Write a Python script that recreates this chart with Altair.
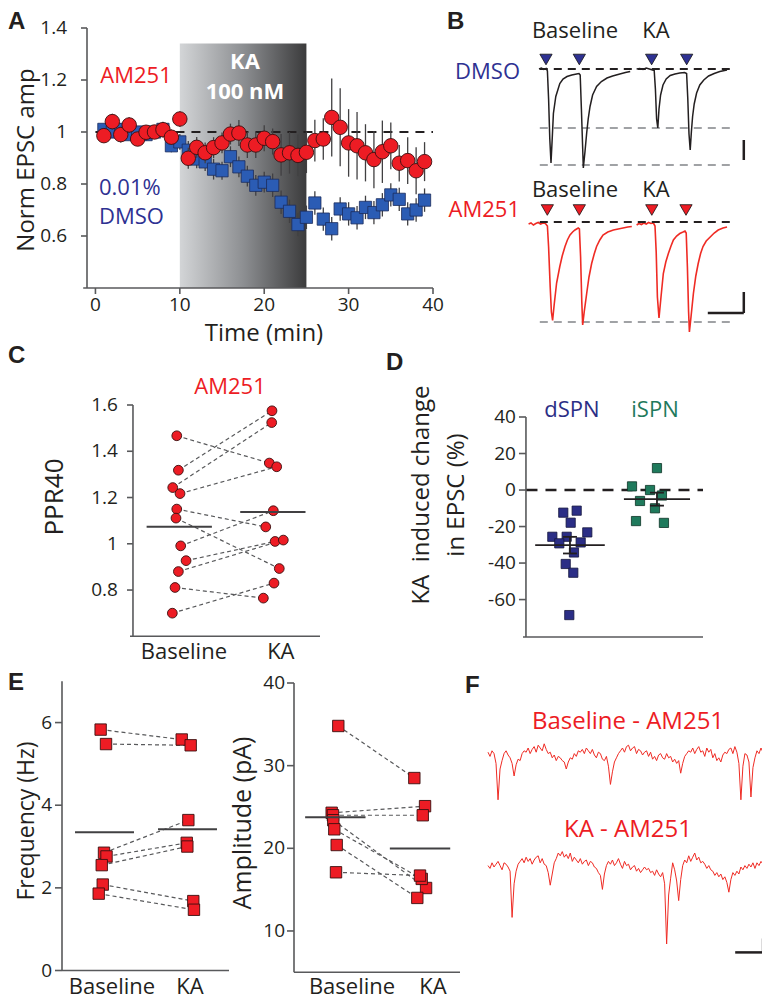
import altair as alt
import numpy as np
import pandas as pd

# ======================= DATA =======================
# ---- Panel A: normalised EPSC amplitude vs time ----
time_min = list(range(1, 40))
am251_norm = [0.986, 1.04, 0.99, 1.027, 0.973, 0.999, 1.0, 1.009, 0.98, 1.05,
              0.899, 0.941, 0.92, 0.94, 0.958, 0.992, 0.996, 0.95, 0.95, 0.976,
              0.963, 0.912, 0.92, 0.91, 0.922, 0.967, 0.973, 1.056, 1.018, 0.958,
              0.947, 0.92, 0.894, 0.924, 0.947, 0.88, 0.89, 0.851, 0.886]
am251_sem = [0.02, 0.03, 0.03, 0.03, 0.02, 0.02, 0.02, 0.03, 0.03, 0.03,
             0.04, 0.04, 0.04, 0.04, 0.04, 0.04, 0.05, 0.05, 0.05, 0.05,
             0.05, 0.08, 0.08, 0.08, 0.08, 0.08, 0.08, 0.15, 0.15, 0.13,
             0.13, 0.11, 0.11, 0.12, 0.09, 0.07, 0.09, 0.09, 0.075]
dmso_norm = [1.01, 1.0, 1.01, 0.99, 1.0, 0.99, 1.0, 1.01, 0.947, 0.962,
             0.93, 0.896, 0.885, 0.857, 0.851, 0.905, 0.866, 0.83, 0.795, 0.807,
             0.795, 0.73, 0.695, 0.644, 0.672, 0.727, 0.665, 0.628, 0.704, 0.685,
             0.67, 0.71, 0.69, 0.72, 0.758, 0.741, 0.685, 0.70, 0.738]
dmso_sem = [0.02, 0.02, 0.025, 0.02, 0.02, 0.025, 0.02, 0.02, 0.025, 0.03,
            0.035, 0.035, 0.035, 0.04, 0.035, 0.04, 0.04, 0.04, 0.04, 0.04,
            0.045, 0.045, 0.045, 0.045, 0.045, 0.045, 0.045, 0.045, 0.045, 0.045,
            0.045, 0.045, 0.045, 0.045, 0.045, 0.045, 0.045, 0.045, 0.045]
ka_window = [10, 25]          # KA application (min)
ka_band_top = 1.34
a_yticks = [0.6, 0.8, 1, 1.2, 1.4]
a_xticks = [0, 10, 20, 30, 40]

# ---- Panel B: example EPSC traces (ms, pA-like units) ----
dmso_bl_t = [0, 3, 6, 9, 10.5, 12, 13.5, 15, 16.5, 18, 21, 26, 30, 35, 41, 47, 50, 51.5, 53,
             55.4, 57.5, 59.6, 61.5, 63.8, 67, 72, 78, 85, 92, 101, 108, 114]
dmso_bl_v = [0, 2, -1, 1, -4, -60, -140, -188, -140, -89, -55, -29, -20, -15, -12, -10, -9, -12, -80,
             -198, -165, -128, -100, -75, -52, -35, -25, -18, -14, -10, -7, -5]
dmso_ka_t = [122, 126, 130, 134, 138, 142, 144, 145.5, 147, 148.5, 150, 152, 155, 159, 164, 170, 176,
             182, 184.5, 186, 187.5, 189, 190.5, 192, 194, 197, 201, 206, 212, 219, 226, 232, 235]
dmso_ka_v = [0, 1, -1, 2, 0, -2, -3, -40, -100, -118, -80, -52, -32, -20, -13, -10, -8,
             -7, -9, -60, -130, -162, -125, -95, -70, -48, -32, -22, -14, -9, -5, -3, -2]
am_bl_t = [-13, -10, -7, -4, -1, 2, 5, 8, 10.5, 12, 14, 15.5, 17, 19, 22, 26, 29, 32.5, 35.5, 38.75,
           42, 45, 49, 50.5, 52, 53.5, 54.6, 56.5, 59.6, 62.5, 65.8, 69, 72, 76, 80, 86, 93, 99,
           105, 111, 116]
am_bl_v = [-4, -2, -6, -3, -1, -4, -2, -3, -8, -50, -130, -180, -197, -165, -122, -89, -68, -49, -36, -26,
           -20, -16, -12, -14, -70, -160, -206, -180, -143, -110, -83, -64, -49, -36, -26, -20, -16, -14,
           -12, -10, -9]
am_ka_t = [122, 125, 128, 131, 134, 137, 140, 143, 145, 146.5, 148, 150, 152.5, 155.4, 158.5, 161.7,
           165, 168, 172, 176, 180, 182.5, 184, 185.5, 187, 188, 190, 193, 196, 199, 202, 205, 209,
           214, 219, 224, 230, 235]
am_ka_v = [-6, -3, -5, -2, -4, -1, -3, -2, -8, -60, -150, -192, -150, -103, -80, -63,
           -48, -36, -28, -23, -20, -18, -22, -90, -180, -220, -190, -143, -108, -83, -63, -49, -38,
           -30, -22, -16, -12, -10]
dmso_stim_t = [8.75, 50.4, 140.8, 184.6]
am_stim_t = [10.4, 50.4, 141, 183.75]
dmso_marker_level = 19
am_marker_level = 24
dmso_peak_levels = [-118, -192]
am_peak_levels = [-200]
trace_span = [1, 245]
dmso_scalebar = {"t": 256, "v0": -142, "v1": -182}
am_scalebar = {"t0": 211, "t1": 256, "v0": -140, "v1": -182}

# ---- Panel C: PPR40 (AM251) ----
ppr_baseline = [1.467, 1.318, 1.243, 1.217, 1.15, 1.111, 0.991, 0.927, 0.88, 0.811, 0.70]
ppr_ka = [1.349, 1.575, 1.524, 1.333, 1.073, 0.893, 1.143, 1.01, 1.016, 0.765, 0.83]
ppr_baseline_x = [-0.034, -0.017, -0.076, 0.0, -0.034, -0.042, 0.007, 0.063, -0.017, -0.052, -0.080]
ppr_ka_x = [0.930, 0.958, 0.955, 1.007, 0.893, 1.034, 0.972, 0.990, 1.076, 0.868, 0.979]
c_yticks = [0.8, 1, 1.2, 1.4, 1.6]

# ---- Panel D: KA-induced change (%) ----
dspn_change = [-12.4, -11.3, -17.9, -25.6, -25.6, -23.2, -29.2, -28.7, -34.2, -40.5, -45.3, -68.5]
dspn_x = [-0.077, 0.077, 0.008, -0.203, -0.038, 0.199, -0.123, 0.123, 0.046, -0.049, 0.038, -0.008]
ispn_change = [12, 2, 0, -3, -6, -10, -17, -18]
ispn_x = [1.0, 0.713, 0.92, 1.057, 0.805, 0.977, 0.759, 1.08]
d_yticks = [-60, -40, -20, 0, 20, 40]

# ---- Panel E: sEPSC frequency and amplitude ----
freq_baseline = [5.83, 5.48, 2.85, 2.76, 2.55, 2.08, 1.86]
freq_ka = [5.59, 5.45, 3.64, 3.09, 3.00, 1.68, 1.47]
freq_baseline_x = [-0.040, 0.024, 0.0, 0.03, -0.027, -0.015, -0.063]
freq_ka_x = [0.925, 1.032, 1.004, 0.985, 0.992, 1.063, 1.071]
amp_baseline = [34.8, 24.3, 24.0, 23.4, 22.3, 20.4, 17.1]
amp_ka = [28.5, 25.1, 24.0, 15.2, 16.3, 14.0, 16.7]
amp_baseline_x = [0.039, -0.039, -0.024, -0.02, -0.008, 0.02, 0.012]
amp_ka_x = [0.933, 1.059, 1.032, 1.071, 1.02, 0.968, 1.0]
ef_yticks = [0, 2, 4, 6]
ea_yticks = [10, 20, 30, 40]
cat_labels = ["Baseline", "KA"]

# ---- Panel F: spontaneous EPSC traces (pA), sampled over 1000 ms ----
sepsc_baseline = [2, -1, 3, 1, -6, -32, -10, -4, 1, 3,
                  0, -2, -6, -15, -7, -3, -4, 1, 3, 2,
                  5, 1, 4, 6, 2, 7, 5, 3, 8, 4,
                  1, 2, -2, 0, -4, -1, -2, -4, -5, -10,
                  -5, -2, -3, 1, -1, 3, 2, 4, 1, 5,
                  3, 1, 4, 0, -2, 2, 1, -3, -4, -1,
                  -8, -21, -12, -5, -2, 1, 3, 5, 2, 6,
                  7, 3, 5, 6, 1, 4, 3, 0, 2, 3,
                  -1, 2, -3, -1, -4, 0, 1, -2, -3, 1,
                  -2, -1, -5, -3, -6, -4, -13, -6, -1, 1,
                  3, 2, 5, 1, 4, 6, 2, 3, -1, 5,
                  2, 4, -2, 1, -4, -2, -5, 0, 2, 1,
                  4, 5, 1, 6, 2, -6, -32, -8, 1, 0,
                  -5, -30, -9, -2, 3, 1, 5, 2, 6, 3]
sepsc_ka = [1, -1, 3, 0, 2, 4, 1, -2, 3, 2,
            0, -3, -36, -12, -3, 2, 4, 6, 3, 7,
            4, 6, 2, 5, 7, 8, 3, 6, 2, 1,
            -4, -13, -5, 3, 6, 10, 8, 11, 7, 9,
            6, 10, 4, 7, 5, 3, 6, 2, 4, 5,
            1, 4, 3, 0, -1, -4, -6, -16, -5, 1,
            4, 2, 5, 1, 3, 6, 2, -1, 4, 1,
            2, -2, 0, 1, -3, -1, -4, -2, 0, -2,
            -1, -4, -3, -6, -2, -5, -7, -4, -12, -55,
            -20, -8, 3, -2, -10, -24, -9, 1, 5, 3,
            8, 4, 7, 10, 5, 7, 3, 4, 2, -1,
            1, -2, -3, -6, -4, -7, -5, -9, -7, -11,
            -18, -9, -4, -6, -3, -5, 0, -2, 1, -1,
            2, 0, 3, -1, 3, 1, 4, 2, 3, 2]
sepsc_duration_ms = 1000
f_scalebar = {"t0": 886, "t1": 986, "v0": -51, "v1": -61}

# ======================= STYLE / LAYOUT =======================
W, H = 754, 991
M = 8


def gx(v):
    return v - M


def gy(v):
    return v - M


FONT = "Open Sans"
BOLD = "Liberation Sans"
INK = "#231f20"
AX = "#58595b"
RED = "#ed1c24"
TRACE_RED = "#ef2b24"
NAVY = "#2e3192"
BLUE_SQ = "#2b5cb4"
DSPN = "#2b2e86"
GREEN = "#1f7a5c"
GRAYDASH = "#a0a2a5"
EDGE = "#3a1010"
TICK_FS = 19

ONE = pd.DataFrame({"k": [0]})


def txt(s, x, y, size=22, color=INK, weight="normal", align="center",
        baseline="middle", angle=0, font=FONT):
    kw = dict(text=s, fontSize=size, color=color, fontWeight=weight,
              align=align, baseline=baseline, font=font)
    if angle:
        kw["angle"] = angle
    return alt.Chart(ONE).mark_text(**kw).encode(x=alt.value(gx(x)), y=alt.value(gy(y)))


def letter(s, x, y_top):
    return txt(s, x, y_top, size=24, weight="bold", align="left", baseline="top", font=BOLD)


def sc(domain, rng):
    return alt.Scale(domain=domain, range=rng, nice=False, zero=False)


def X(field, s):
    return alt.X(field, scale=s, axis=None)


def Y(field, s):
    return alt.Y(field, scale=s, axis=None)


def fmt(v):
    return f"{v:g}"


def axes(xs, ys, yaxis_x, xaxis_y, x_extent, y_extent, yvals, ytick=6, ylab_dx=-12,
         xvals=None, xlabels=None, xtick=0, xlab_dy=6, xlab_size=TICK_FS, ylab_size=TICK_FS):
    """Axis lines, ticks and tick labels drawn through the panel's own scales."""
    out = []
    out.append(alt.Chart(pd.DataFrame({"x": [yaxis_x], "y0": [y_extent[0]], "y1": [y_extent[1]]}))
               .mark_rule(color=AX, strokeWidth=1.6)
               .encode(x=X("x:Q", xs), y=Y("y0:Q", ys), y2="y1"))
    out.append(alt.Chart(pd.DataFrame({"x0": [x_extent[0]], "x1": [x_extent[1]], "y": [xaxis_y]}))
               .mark_rule(color=AX, strokeWidth=1.6)
               .encode(x=X("x0:Q", xs), x2="x1", y=Y("y:Q", ys)))
    dfy = pd.DataFrame({"v": yvals, "lab": [fmt(v) for v in yvals], "x": yaxis_x})
    if ytick:
        out.append(alt.Chart(dfy).mark_tick(orient="horizontal", size=ytick, thickness=1.6,
                                            color=AX, xOffset=-ytick / 2, opacity=1)
                   .encode(x=X("x:Q", xs), y=Y("v:Q", ys)))
    out.append(alt.Chart(dfy).mark_text(align="right", baseline="middle", dx=ylab_dx,
                                        font=FONT, fontSize=ylab_size, color=INK)
               .encode(x=X("x:Q", xs), y=Y("v:Q", ys), text="lab:N"))
    if xvals is not None:
        labs = xlabels if xlabels is not None else [fmt(v) for v in xvals]
        dfx = pd.DataFrame({"v": xvals, "lab": labs, "y": xaxis_y})
        if xtick:
            out.append(alt.Chart(dfx).mark_tick(orient="vertical", size=xtick, thickness=1.6,
                                                color=AX, yOffset=xtick / 2, opacity=1)
                       .encode(x=X("v:Q", xs), y=Y("y:Q", ys)))
        out.append(alt.Chart(dfx).mark_text(align="center", baseline="top", dy=xlab_dy,
                                            font=FONT, fontSize=xlab_size, color=INK)
                   .encode(x=X("v:Q", xs), y=Y("y:Q", ys), text="lab:N"))
    return out


layers = []

# ======================= PANEL A =======================
xA = sc([-1, 40], [gx(87), gx(433)])
yA = sc([0.4, 1.4], [gy(288), gy(28)])
dfA_red = pd.DataFrame({"t": time_min, "v": am251_norm,
                        "lo": np.array(am251_norm) - np.array(am251_sem),
                        "hi": np.array(am251_norm) + np.array(am251_sem)})
dfA_blue = pd.DataFrame({"t": time_min, "v": dmso_norm,
                         "lo": np.array(dmso_norm) - np.array(dmso_sem),
                         "hi": np.array(dmso_norm) + np.array(dmso_sem)})
grad = alt.LinearGradient(gradient="linear",
                          stops=[alt.GradientStop(color="#d3d5d7", offset=0),
                                 alt.GradientStop(color="#8d8f92", offset=0.5),
                                 alt.GradientStop(color="#3b3b3c", offset=1)],
                          x1=0, x2=1, y1=0, y2=0)
a_band = alt.Chart(pd.DataFrame({"s": [ka_window[0]], "e": [ka_window[1]],
                                 "lo": [0.4], "hi": [ka_band_top]})).mark_rect(fill=grad).encode(
    x=X("s:Q", xA), x2="e", y=Y("lo:Q", yA), y2="hi")
a_dash = alt.Chart(pd.DataFrame({"x0": [0], "x1": [40], "y": [1.0]})).mark_rule(
    color=INK, strokeWidth=2.2, strokeDash=[9, 7]).encode(
    x=X("x0:Q", xA), x2="x1", y=Y("y:Q", yA))
a_berr = alt.Chart(dfA_blue).mark_rule(color="#414042", strokeWidth=1.3).encode(
    x=X("t:Q", xA), y=Y("lo:Q", yA), y2="hi")
a_bpts = alt.Chart(dfA_blue).mark_square(size=150, fill=BLUE_SQ, stroke="#1c2c5c",
                                         strokeWidth=0.8, opacity=1).encode(
    x=X("t:Q", xA), y=Y("v:Q", yA))
a_rerr = alt.Chart(dfA_red).mark_rule(color="#414042", strokeWidth=1.3).encode(
    x=X("t:Q", xA), y=Y("lo:Q", yA), y2="hi")
a_rpts = alt.Chart(dfA_red).mark_circle(size=210, fill=RED, stroke=EDGE, strokeWidth=0.9,
                                        opacity=1).encode(
    x=X("t:Q", xA), y=Y("v:Q", yA))
a_axes = axes(xA, yA, yaxis_x=-1, xaxis_y=0.4, x_extent=[-1.45, 40], y_extent=[0.4, 1.4],
              yvals=a_yticks, ytick=6, ylab_dx=-20, xvals=a_xticks, xtick=6, xlab_dy=8)
layers.append(alt.layer(a_band, a_dash, a_berr, a_bpts, a_rerr, a_rpts, *a_axes))
layers += [
    txt("AM251", 136, 76, color=RED),
    txt("0.01%", 99, 188, color=NAVY, align="left"),
    txt("DMSO", 99, 217, color=NAVY, align="left"),
    txt("KA", 245, 62, color="white", weight="bold"),
    txt("100 nM", 245, 92, color="white", weight="bold"),
    txt("Norm EPSC amp", 27, 160, size=24, angle=270),
    txt("Time (min)", 264, 334, size=24),
    letter("A", 8, 10),
]

# ======================= PANEL B =======================
xB = sc([-20, 260], [gx(523), gx(747)])


def trace_group(yscale, bl_t, bl_v, ka_t, ka_v, color, width, stim_t, marker_level,
                marker_fill, peak_levels, sbars):
    df_tr = pd.concat([pd.DataFrame({"t": bl_t, "v": bl_v, "sweep": "baseline"}),
                       pd.DataFrame({"t": ka_t, "v": ka_v, "sweep": "KA"})])
    g_gray = alt.Chart(pd.DataFrame({"x0": trace_span[0], "x1": trace_span[1],
                                     "y": peak_levels})).mark_rule(
        color=GRAYDASH, strokeWidth=2, strokeDash=[8, 6]).encode(
        x=X("x0:Q", xB), x2="x1", y=Y("y:Q", yscale))
    g_tr = alt.Chart(df_tr).mark_line(color=color, strokeWidth=width).encode(
        x=X("t:Q", xB), y=Y("v:Q", yscale), detail="sweep:N")
    g_base = alt.Chart(pd.DataFrame({"x0": [trace_span[0]], "x1": [trace_span[1]], "y": [0]})).mark_rule(
        color=INK, strokeWidth=2, strokeDash=[8, 6]).encode(
        x=X("x0:Q", xB), x2="x1", y=Y("y:Q", yscale))
    g_tri = alt.Chart(pd.DataFrame({"t": stim_t, "y": marker_level})).mark_point(
        shape="triangle-down", filled=True, size=150, fill=marker_fill, stroke="#111111",
        strokeWidth=0.8, opacity=1).encode(
        x=X("t:Q", xB), y=Y("y:Q", yscale))
    return alt.layer(g_gray, g_tr, g_base, g_tri, *sbars)


yB1 = sc([-220, 40], [gy(179), gy(49)])
sb1 = alt.Chart(pd.DataFrame({"t": [dmso_scalebar["t"]], "v0": [dmso_scalebar["v0"]],
                              "v1": [dmso_scalebar["v1"]]})).mark_rule(
    color=INK, strokeWidth=2.5).encode(
    x=X("t:Q", xB), y=Y("v0:Q", yB1), y2="v1")
layers.append(trace_group(yB1, dmso_bl_t, dmso_bl_v, dmso_ka_t, dmso_ka_v, INK, 1.5,
                          dmso_stim_t, dmso_marker_level, NAVY, dmso_peak_levels, [sb1]))

yB2 = sc([-230, 40], [gy(337), gy(202)])
sb2v = alt.Chart(pd.DataFrame({"t": [am_scalebar["t1"]], "v0": [am_scalebar["v0"]],
                               "v1": [am_scalebar["v1"]]})).mark_rule(
    color=INK, strokeWidth=2.5).encode(
    x=X("t:Q", xB), y=Y("v0:Q", yB2), y2="v1")
sb2h = alt.Chart(pd.DataFrame({"t0": [am_scalebar["t0"]], "t1": [am_scalebar["t1"]],
                               "v": [am_scalebar["v1"]]})).mark_rule(
    color=INK, strokeWidth=2.5).encode(
    x=X("t0:Q", xB), x2="t1", y=Y("v:Q", yB2))
layers.append(trace_group(yB2, am_bl_t, am_bl_v, am_ka_t, am_ka_v, TRACE_RED, 1.6,
                          am_stim_t, am_marker_level, RED, am_peak_levels, [sb2v, sb2h]))
layers += [
    txt("Baseline", 575, 31), txt("KA", 656, 31),
    txt("DMSO", 520, 72, color=NAVY, align="right"),
    txt("Baseline", 575, 190), txt("KA", 656, 190),
    txt("AM251", 520, 210, color=RED, align="right"),
    letter("B", 447, 10),
]


# ======================= paired-plot helper =======================
def paired_panel(xs, ys, bl, ka, bl_x, ka_x, mean_centers, half, mark, size, fill):
    n = len(bl)
    df_lines = pd.DataFrame({"pair": list(range(n)) * 2, "x": list(bl_x) + list(ka_x),
                             "y": list(bl) + list(ka)})
    df_pts = pd.DataFrame({"x": list(bl_x) + list(ka_x), "y": list(bl) + list(ka)})
    df_mean = pd.DataFrame({"x0": [c - half for c in mean_centers],
                            "x1": [c + half for c in mean_centers],
                            "m": [float(np.mean(bl)), float(np.mean(ka))]})
    l_lines = alt.Chart(df_lines).mark_line(color="#58595b", strokeWidth=1.2,
                                            strokeDash=[4, 3]).encode(
        x=X("x:Q", xs), y=Y("y:Q", ys), detail="pair:N")
    if mark == "circle":
        pts = alt.Chart(df_pts).mark_circle(size=size, fill=fill, stroke=EDGE, strokeWidth=0.9,
                                            opacity=1)
    else:
        pts = alt.Chart(df_pts).mark_square(size=size, fill=fill, stroke=EDGE, strokeWidth=0.9,
                                            opacity=1)
    l_pts = pts.encode(x=X("x:Q", xs), y=Y("y:Q", ys))
    l_mean = alt.Chart(df_mean).mark_rule(color="#414042", strokeWidth=2).encode(
        x=X("x0:Q", xs), x2="x1", y=Y("m:Q", ys))
    return [l_lines, l_pts, l_mean]


# ======================= PANEL C =======================
xC = sc([-0.521, 1.458], [gx(130), gx(320)])
yC = sc([0.6, 1.6], [gy(636.3), gy(405)])
c_marks = paired_panel(xC, yC, ppr_baseline, ppr_ka, ppr_baseline_x, ppr_ka_x,
                       [-0.008, 0.967], 0.34, "circle", 95, RED)
c_axes = axes(xC, yC, yaxis_x=-0.49, xaxis_y=0.6, x_extent=[-0.521, 1.458], y_extent=[0.6, 1.6],
              yvals=c_yticks, ytick=6, ylab_dx=-15, xvals=[0.04, 1.05], xlabels=cat_labels,
              xtick=0, xlab_dy=6, xlab_size=22)
layers.append(alt.layer(*c_axes, *c_marks))
layers += [
    txt("AM251", 230, 387, color=RED),
    txt("PPR40", 55, 497, size=26, angle=270),
    letter("C", 8, 344),
]

# ======================= PANEL D =======================
xD = sc([-0.540, 1.529], [gx(523), gx(703)])
yD = sc([-80.5, 40], [gy(637), gy(417)])

d_layers = axes(xD, yD, yaxis_x=-0.506, xaxis_y=-80.5, x_extent=[-0.540, 1.529],
                y_extent=[-80.5, 40], yvals=d_yticks, ytick=7, ylab_dx=-10)
d_layers.append(alt.Chart(pd.DataFrame({"x0": [-0.5], "x1": [1.529], "y": [0]})).mark_rule(
    color=INK, strokeWidth=2.4, strokeDash=[11, 8]).encode(
    x=X("x0:Q", xD), x2="x1", y=Y("y:Q", yD)))
for vals, xs_, center, half, fill, edge in [
        (dspn_change, dspn_x, 0.0, 0.40, DSPN, "#15163d"),
        (ispn_change, ispn_x, 1.0, 0.38, GREEN, "#0c3326")]:
    m = float(np.mean(vals))
    s = float(np.std(vals, ddof=1) / np.sqrt(len(vals)))
    d_layers.append(alt.Chart(pd.DataFrame({"x": xs_, "y": vals})).mark_square(
        size=85, fill=fill, stroke=edge, strokeWidth=0.8, opacity=1).encode(
        x=X("x:Q", xD), y=Y("y:Q", yD)))
    d_layers.append(alt.Chart(pd.DataFrame({"x0": [center - half], "x1": [center + half],
                                            "m": [m]})).mark_rule(
        color=INK, strokeWidth=1.8).encode(x=X("x0:Q", xD), x2="x1", y=Y("m:Q", yD)))
    d_layers.append(alt.Chart(pd.DataFrame({"x": [center], "lo": [m - s], "hi": [m + s]})).mark_rule(
        color=INK, strokeWidth=1.8).encode(x=X("x:Q", xD), y=Y("lo:Q", yD), y2="hi"))
    d_layers.append(alt.Chart(pd.DataFrame({"x0": [center - 0.08] * 2, "x1": [center + 0.08] * 2,
                                            "y": [m - s, m + s]})).mark_rule(
        color=INK, strokeWidth=1.8).encode(x=X("x0:Q", xD), x2="x1", y=Y("y:Q", yD)))
layers.append(alt.layer(*d_layers))
layers += [
    txt("dSPN", 572, 410, color=DSPN),
    txt("iSPN", 655, 410, color=GREEN),
    txt("KA\u00a0 induced change", 422, 495, size=24, angle=270),
    txt("in EPSC (%)", 457, 495, size=24, angle=270),
    letter("D", 386, 351),
]

# ======================= PANEL E =======================
xEf = sc([-0.5, 1.488], [gx(62), gx(229)])
yEf = sc([0, 7], [gy(970.5), gy(681.25)])
ef_marks = paired_panel(xEf, yEf, freq_baseline, freq_ka, freq_baseline_x, freq_ka_x,
                        [0.006, 0.994], 0.351, "square", 130, RED)
ef_axes = axes(xEf, yEf, yaxis_x=-0.5, xaxis_y=0, x_extent=[-0.5, 1.488], y_extent=[0, 7],
               yvals=ef_yticks, ytick=7, ylab_dx=-10, xvals=[0.095, 1.024], xlabels=cat_labels,
               xtick=0, xlab_dy=6, xlab_size=22)
layers.append(alt.layer(*ef_axes, *ef_marks))

xEa = sc([-0.482, 1.47], [gx(294), gx(460)])
yEa = sc([5, 40], [gy(972.3), gy(683)])
ea_marks = paired_panel(xEa, yEa, amp_baseline, amp_ka, amp_baseline_x, amp_ka_x,
                        [0.004, 1.0], 0.355, "square", 130, RED)
ea_axes = axes(xEa, yEa, yaxis_x=-0.482, xaxis_y=5, x_extent=[-0.482, 1.47], y_extent=[5, 40],
               yvals=ea_yticks, ytick=7, ylab_dx=-9, xvals=[0.2, 1.153], xlabels=cat_labels,
               xtick=0, xlab_dy=5, xlab_size=22)
layers.append(alt.layer(*ea_axes, *ea_marks))
layers += [
    txt("Frequency (Hz)", 27, 821, size=23, angle=270),
    txt("Amplitude (pA)", 243, 823, size=25, angle=270),
    letter("E", 8, 671),
]

# ======================= PANEL F =======================
n_f = len(sepsc_baseline)
t_f = np.arange(n_f) * (sepsc_duration_ms / (n_f - 1))
xF = sc([0, 1000], [gx(488), gx(767)])
yF1 = sc([-40, 10], [gy(811), gy(741)])
yF2 = sc([-65, 15], [gy(958), gy(846)])
f1 = alt.Chart(pd.DataFrame({"t": t_f, "v": sepsc_baseline})).mark_line(
    color=TRACE_RED, strokeWidth=1).encode(x=X("t:Q", xF), y=Y("v:Q", yF1))
layers.append(f1)
f2 = alt.Chart(pd.DataFrame({"t": t_f, "v": sepsc_ka})).mark_line(
    color=TRACE_RED, strokeWidth=1).encode(x=X("t:Q", xF), y=Y("v:Q", yF2))
f_sbv = alt.Chart(pd.DataFrame({"t": [f_scalebar["t1"]], "v0": [f_scalebar["v0"]],
                                "v1": [f_scalebar["v1"]]})).mark_rule(
    color=INK, strokeWidth=2.5).encode(x=X("t:Q", xF), y=Y("v0:Q", yF2), y2="v1")
f_sbh = alt.Chart(pd.DataFrame({"t0": [f_scalebar["t0"]], "t1": [f_scalebar["t1"]],
                                "v": [f_scalebar["v1"]]})).mark_rule(
    color=INK, strokeWidth=2.5).encode(x=X("t0:Q", xF), x2="t1", y=Y("v:Q", yF2))
layers.append(alt.layer(f2, f_sbv, f_sbh))
layers += [
    txt("Baseline - AM251", 628, 722, size=24, color=RED),
    txt("KA - AM251", 628, 830, size=24, color=RED),
    letter("F", 465, 674),
]

chart = alt.layer(*layers).resolve_scale(x="independent", y="independent").properties(
    width=W, height=H, padding=0, autosize=alt.AutoSizeParams(type="none")
).configure_view(stroke=None)

chart.save("out.html", embed_options={"renderer": "svg", "actions": False})
